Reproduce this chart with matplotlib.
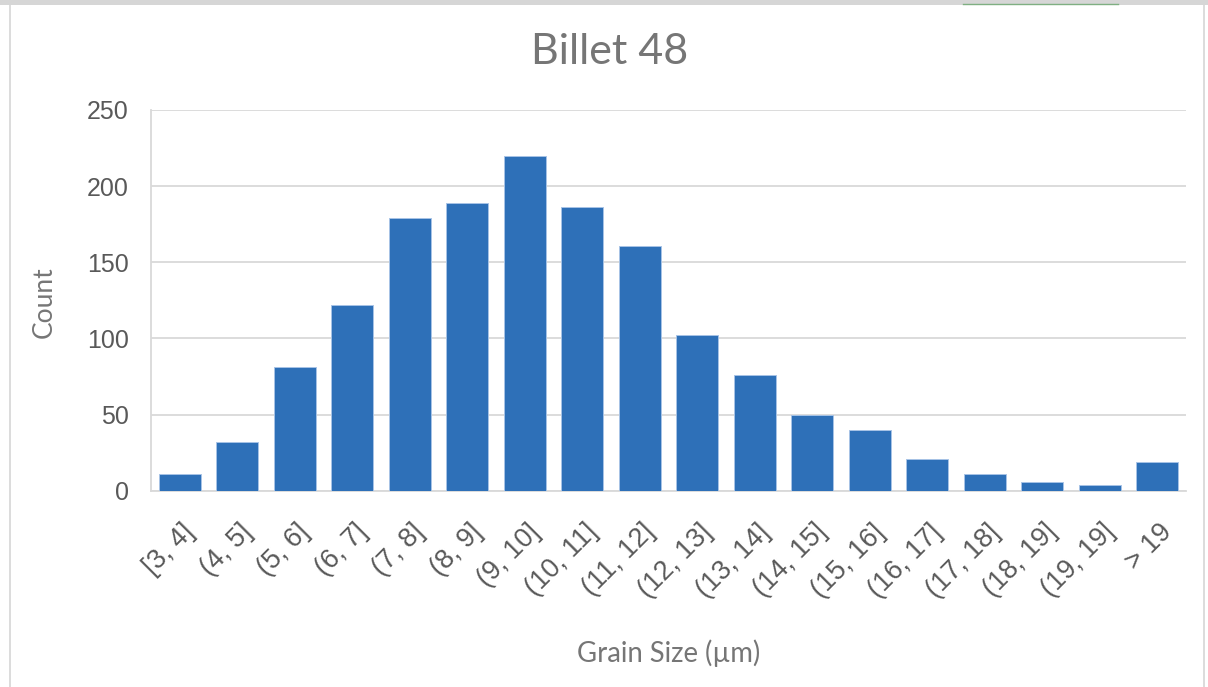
import matplotlib
matplotlib.use("Agg")
import matplotlib.pyplot as plt
import matplotlib.transforms as mtransforms
from matplotlib.lines import Line2D
from matplotlib.patches import Rectangle

# Histogram bins and counts
bins = ["[3, 4]", "(4, 5]", "(5, 6]", "(6, 7]", "(7, 8]", "(8, 9]", "(9, 10]",
        "(10, 11]", "(11, 12]", "(12, 13]", "(13, 14]", "(14, 15]", "(15, 16]",
        "(16, 17]", "(17, 18]", "(18, 19]", "(19, 19]", "> 19"]
counts = [11, 32, 81, 122, 179, 189, 220, 186, 161, 102, 76, 50, 40, 21, 11, 6, 4, 19]
y_ticks = [0, 50, 100, 150, 200, 250]

BAR = "#2E70B8"
GRID = "#D9D9D9"
TICK_TXT = "#595959"
TITLE_TXT = "#767676"

fig = plt.figure(figsize=(12.08, 6.87), dpi=100)
ax = fig.add_axes([151 / 1208, 1 - 490.7 / 687, (1186 - 151) / 1208, (490.7 - 110) / 687])

x = list(range(len(bins)))
ax.bar(x, counts, width=0.73, color=BAR, edgecolor="#A7C3E6", linewidth=0.7, zorder=3)

ax.set_xlim(-0.5, len(bins) - 0.5)
ax.set_ylim(0, 250)
ax.set_yticks(y_ticks)
ax.set_yticklabels([str(v) for v in y_ticks], fontsize=18, color=TICK_TXT,
                   family="Liberation Sans")
ax.yaxis.grid(True, color=GRID, linewidth=1.3, zorder=0)
ax.tick_params(axis="y", length=0, pad=16)
ax.tick_params(axis="x", length=0, pad=27)

ax.set_xticks(x)
ax.set_xticklabels(bins, rotation=45, ha="right", va="center", rotation_mode="anchor",
                   fontsize=19.5, color=TICK_TXT, family="Liberation Sans")
shift = mtransforms.ScaledTranslation(11 / 100, 0, fig.dpi_scale_trans)
for lbl in ax.get_xticklabels():
    lbl.set_transform(lbl.get_transform() + shift)

for side in ("top", "right"):
    ax.spines[side].set_visible(False)
for side in ("left", "bottom"):
    ax.spines[side].set_color(GRID)
    ax.spines[side].set_linewidth(1.3)

fig.text(610 / 1208, 1 - 52 / 687, "Billet 48", ha="center", va="center",
         fontsize=31, color=TITLE_TXT, family="Lato")
fig.text(44 / 1208, 1 - 302 / 687, "Count", ha="center", va="center", rotation=90,
         fontsize=19, color=TITLE_TXT, family="Lato")
fig.text(669 / 1208, 1 - 653 / 687, "Grain Size (µm)", ha="center", va="center",
         fontsize=19.8, color=TITLE_TXT, family="Lato")

# Outer chart frame
fig.add_artist(Rectangle((0, 1 - 5 / 687), 1, 5 / 687, transform=fig.transFigure,
                         facecolor="#D6D6D6", edgecolor="none"))
fig.add_artist(Line2D([10 / 1208, 10 / 1208], [0, 1 - 5 / 687], transform=fig.transFigure,
                      color="#D6D6D6", linewidth=1.2))
fig.add_artist(Line2D([1204 / 1208, 1204 / 1208], [0, 1 - 5 / 687], transform=fig.transFigure,
                      color="#D6D6D6", linewidth=1.2))
# Selection marker along the top edge
fig.add_artist(Line2D([963 / 1208, 1118 / 1208], [1 - 4 / 687, 1 - 4 / 687],
                      transform=fig.transFigure, color="#7FAF82", linewidth=1.0))

fig.savefig("out.png", dpi=100)
